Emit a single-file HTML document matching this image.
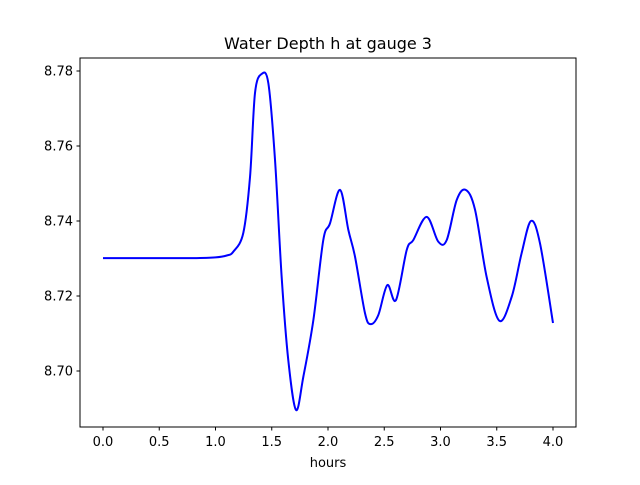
<!DOCTYPE html>
<html><head><meta charset="utf-8"><style>
body{margin:0;background:#fff;}
svg text{font-family:"DejaVu Sans","Liberation Sans",sans-serif;fill:#000;}
</style></head><body>
<svg id="chart" width="640" height="480">
<rect x="0" y="0" width="640" height="480" fill="#fff"/>
<g id="plot"></g>
<rect x="80" y="58" width="496" height="369" fill="none" stroke="#000" stroke-width="1"/>
<g id="xt"></g><g id="yt"></g>
<text x="328" y="49" text-anchor="middle" font-size="16">Water Depth h at gauge 3</text>
<text x="328" y="467" text-anchor="middle" font-size="13">hours</text>
</svg>
<script>
const hours=[0,0.5,0.8,1.0,1.1,1.158,1.247,1.307,1.351,1.41,1.47,1.529,1.588,1.647,1.716,1.781,1.87,1.958,2.018,2.107,2.181,2.24,2.329,2.379,2.447,2.527,2.604,2.7,2.758,2.877,2.98,3.055,3.144,3.224,3.307,3.41,3.523,3.633,3.721,3.804,3.884,4.0];
const depth=[8.7301,8.7301,8.7301,8.7303,8.7308,8.7318,8.7368,8.7518,8.7741,8.7792,8.7767,8.7563,8.7251,8.7029,8.6896,8.6985,8.7136,8.7349,8.7394,8.7483,8.7376,8.7305,8.7154,8.7125,8.7149,8.7229,8.7189,8.7323,8.7349,8.7411,8.7345,8.7349,8.7456,8.7483,8.743,8.7251,8.7134,8.7198,8.7314,8.74,8.7341,8.7128];
const xTicks=[0,0.5,1,1.5,2,2.5,3,3.5,4];
const yTicks=[8.70,8.72,8.74,8.76,8.78];
const NS='http://www.w3.org/2000/svg';
function X(t){return 103+t*112.5;}
function Y(v){return 71+(8.78-v)*3750;}
const pts=hours.map((h,i)=>[X(h),Y(depth[i])]);
let d='M'+pts[0][0]+','+pts[0][1];
for(let i=0;i<pts.length-1;i++){
  const p0=pts[Math.max(0,i-1)],p1=pts[i],p2=pts[i+1],p3=pts[Math.min(pts.length-1,i+2)];
  const c1=[p1[0]+(p2[0]-p0[0])/6,p1[1]+(p2[1]-p0[1])/6];
  const c2=[p2[0]-(p3[0]-p1[0])/6,p2[1]-(p3[1]-p1[1])/6];
  d+=` C${c1[0]},${c1[1]} ${c2[0]},${c2[1]} ${p2[0]},${p2[1]}`;
}
const path=document.createElementNS(NS,'path');
path.setAttribute('d',d);path.setAttribute('fill','none');path.setAttribute('stroke','#0000ff');path.setAttribute('stroke-width','2');


document.getElementById('plot').appendChild(path);
const xt=document.getElementById('xt');
xTicks.forEach(t=>{
  const l=document.createElementNS(NS,'line');
  l.setAttribute('x1',X(t));l.setAttribute('x2',X(t));l.setAttribute('y1',427);l.setAttribute('y2',430.5);l.setAttribute('stroke','#000');
  
  
  xt.appendChild(l);
  const tx=document.createElementNS(NS,'text');
  tx.setAttribute('x',X(t));tx.setAttribute('y',446);tx.setAttribute('text-anchor','middle');tx.setAttribute('font-size','13');
  tx.textContent=t.toFixed(1);
  
  
  xt.appendChild(tx);
});
const yt=document.getElementById('yt');
yTicks.forEach(v=>{
  const l=document.createElementNS(NS,'line');
  l.setAttribute('x1',76.5);l.setAttribute('x2',80);l.setAttribute('y1',Y(v));l.setAttribute('y2',Y(v));l.setAttribute('stroke','#000');
  
  
  yt.appendChild(l);
  const tx=document.createElementNS(NS,'text');
  tx.setAttribute('x',73);tx.setAttribute('y',Y(v)+4.5);tx.setAttribute('text-anchor','end');tx.setAttribute('font-size','13');
  tx.textContent=v.toFixed(2);
  
  
  yt.appendChild(tx);
});
</script>
</body></html>
